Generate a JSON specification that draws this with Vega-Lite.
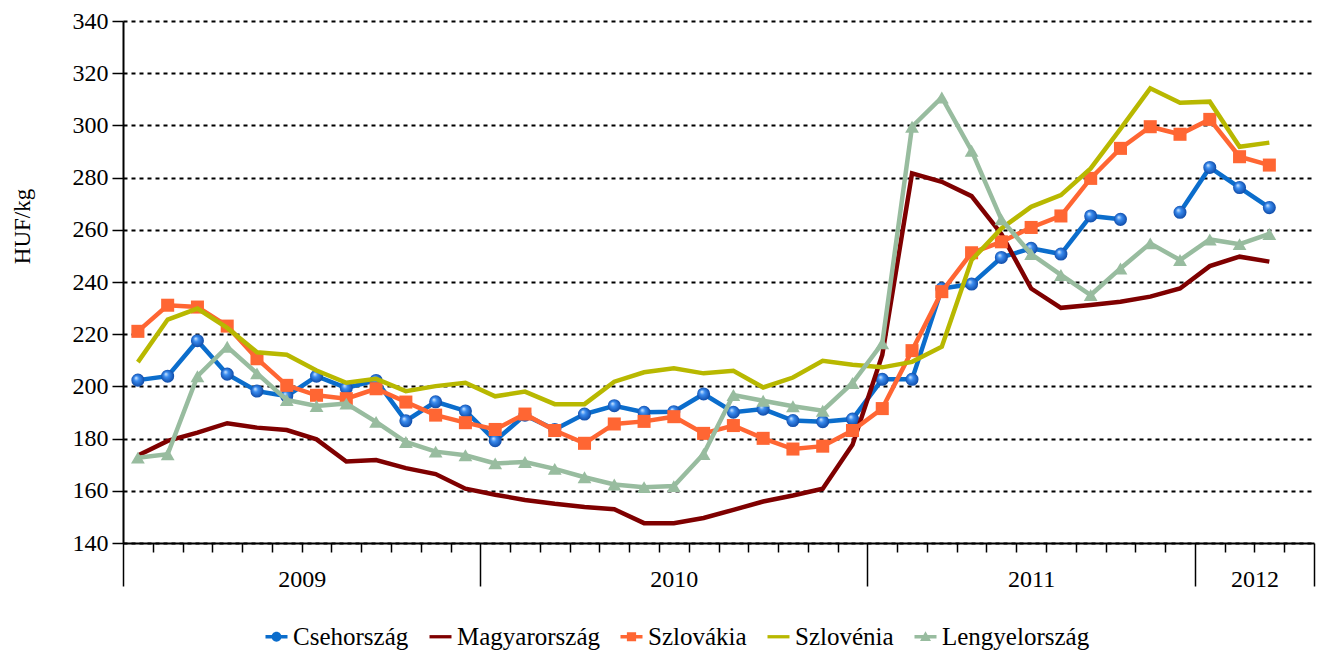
{
  "$schema": "https://vega.github.io/schema/vega-lite/v6.json",
  "width": 1191,
  "height": 522,
  "autosize": {"type": "none"},
  "padding": {"left": 123, "top": 21, "right": 10, "bottom": 108},
  "background": "white",
  "config": {"font": "Liberation Serif", "view": {"stroke": null}},
  "data": {"values": [
    {"period": 1, "Csehország": 202.4, "Magyarország": 173.5, "Szlovákia": 221.1, "Szlovénia": 209.3, "Lengyelország": 172.7},
    {"period": 2, "Csehország": 203.9, "Magyarország": 179.1, "Szlovákia": 231.1, "Szlovénia": 225.6, "Lengyelország": 174.0},
    {"period": 3, "Csehország": 217.5, "Magyarország": 182.3, "Szlovákia": 230.4, "Szlovénia": 229.8, "Lengyelország": 203.9},
    {"period": 4, "Csehország": 204.7, "Magyarország": 185.9, "Szlovákia": 223.1, "Szlovénia": 222.4, "Lengyelország": 215.2},
    {"period": 5, "Csehország": 198.2, "Magyarország": 184.2, "Szlovákia": 210.6, "Szlovénia": 213.1, "Lengyelország": 205.0},
    {"period": 6, "Csehország": 196.3, "Magyarország": 183.3, "Szlovákia": 200.4, "Szlovénia": 212.1, "Lengyelország": 194.8},
    {"period": 7, "Csehország": 203.9, "Magyarország": 179.7, "Szlovákia": 196.6, "Szlovénia": 206.1, "Lengyelország": 192.5},
    {"period": 8, "Csehország": 199.4, "Magyarország": 171.2, "Szlovákia": 195.3, "Szlovénia": 201.4, "Lengyelország": 193.4},
    {"period": 9, "Csehország": 202.3, "Magyarország": 171.8, "Szlovákia": 199.1, "Szlovénia": 202.9, "Lengyelország": 186.4},
    {"period": 10, "Csehország": 186.8, "Magyarország": 168.7, "Szlovákia": 194.0, "Szlovénia": 198.2, "Lengyelország": 178.7},
    {"period": 11, "Csehország": 194.1, "Magyarország": 166.4, "Szlovákia": 189.0, "Szlovénia": 200.1, "Lengyelország": 175.0},
    {"period": 12, "Csehország": 190.6, "Magyarország": 160.8, "Szlovákia": 186.1, "Szlovénia": 201.4, "Lengyelország": 173.6},
    {"period": 13, "Csehország": 179.2, "Magyarország": 158.5, "Szlovákia": 183.5, "Szlovénia": 196.2, "Lengyelország": 170.5},
    {"period": 14, "Csehország": 189.0, "Magyarország": 156.5, "Szlovákia": 189.4, "Szlovénia": 198.0, "Lengyelország": 171.0},
    {"period": 15, "Csehország": 183.5, "Magyarország": 155.0, "Szlovákia": 183.1, "Szlovénia": 193.2, "Lengyelország": 168.4},
    {"period": 16, "Csehország": 189.4, "Magyarország": 153.8, "Szlovákia": 178.2, "Szlovénia": 193.2, "Lengyelország": 165.2},
    {"period": 17, "Csehország": 192.6, "Magyarország": 152.9, "Szlovákia": 185.6, "Szlovénia": 201.8, "Lengyelország": 162.4},
    {"period": 18, "Csehország": 190.1, "Magyarország": 147.6, "Szlovákia": 186.6, "Szlovénia": 205.4, "Lengyelország": 161.4},
    {"period": 19, "Csehország": 190.3, "Magyarország": 147.6, "Szlovákia": 188.4, "Szlovénia": 206.9, "Lengyelország": 161.8},
    {"period": 20, "Csehország": 197.1, "Magyarország": 149.6, "Szlovákia": 182.0, "Szlovénia": 205.0, "Lengyelország": 174.1},
    {"period": 21, "Csehország": 190.1, "Magyarország": 152.7, "Szlovákia": 185.0, "Szlovénia": 206.0, "Lengyelország": 196.7},
    {"period": 22, "Csehország": 191.3, "Magyarország": 155.9, "Szlovákia": 180.1, "Szlovénia": 199.6, "Lengyelország": 194.5},
    {"period": 23, "Csehország": 186.9, "Magyarország": 158.2, "Szlovákia": 176.0, "Szlovénia": 203.4, "Lengyelország": 192.4},
    {"period": 24, "Csehország": 186.5, "Magyarország": 160.8, "Szlovákia": 177.1, "Szlovénia": 209.8, "Lengyelország": 190.7},
    {"period": 25, "Csehország": 187.5, "Magyarország": 177.6, "Szlovákia": 183.1, "Szlovénia": 208.3, "Lengyelország": 201.3},
    {"period": 26, "Csehország": 202.7, "Magyarország": 212.0, "Szlovákia": 191.5, "Szlovénia": 207.3, "Lengyelország": 216.5},
    {"period": 27, "Csehország": 202.7, "Magyarország": 281.6, "Szlovákia": 213.7, "Szlovénia": 209.4, "Lengyelország": 299.5},
    {"period": 28, "Csehország": 237.5, "Magyarország": 278.4, "Szlovákia": 236.3, "Szlovénia": 215.2, "Lengyelország": 310.7},
    {"period": 29, "Csehország": 239.2, "Magyarország": 272.9, "Szlovákia": 251.2, "Szlovénia": 248.4, "Lengyelország": 290.3},
    {"period": 30, "Csehország": 249.4, "Magyarország": 258.4, "Szlovákia": 255.4, "Szlovénia": 260.5, "Lengyelország": 264.0},
    {"period": 31, "Csehország": 252.9, "Magyarország": 237.5, "Szlovákia": 260.9, "Szlovénia": 268.8, "Lengyelország": 250.7},
    {"period": 32, "Csehország": 250.7, "Magyarország": 230.1, "Szlovákia": 265.3, "Szlovénia": 273.3, "Lengyelország": 242.7},
    {"period": 33, "Csehország": 265.3, "Magyarország": 231.2, "Szlovákia": 279.7, "Szlovénia": 283.5, "Lengyelország": 235.0},
    {"period": 34, "Csehország": 264.0, "Magyarország": 232.4, "Szlovákia": 291.2, "Szlovénia": 298.7, "Lengyelország": 245.2},
    {"period": 35, "Csehország": null, "Magyarország": 234.4, "Szlovákia": 299.5, "Szlovénia": 314.2, "Lengyelország": 254.8},
    {"period": 36, "Csehország": 266.7, "Magyarország": 237.5, "Szlovákia": 296.6, "Szlovénia": 308.7, "Lengyelország": 248.4},
    {"period": 37, "Csehország": 283.9, "Magyarország": 246.1, "Szlovákia": 302.3, "Szlovénia": 309.1, "Lengyelország": 256.3},
    {"period": 38, "Csehország": 276.2, "Magyarország": 249.7, "Szlovákia": 288.0, "Szlovénia": 291.8, "Lengyelország": 254.5},
    {"period": 39, "Csehország": 268.5, "Magyarország": 247.8, "Szlovákia": 284.8, "Szlovénia": 293.4, "Lengyelország": 258.4}
  ]},
  "transform": [
    {"fold": ["Csehország", "Magyarország", "Szlovákia", "Szlovénia", "Lengyelország"], "as": ["country", "value"]}
  ],
  "layer": [
    {
      "transform": [{"filter": "datum.country === 'Csehország'"}],
      "mark": {"type": "line", "strokeWidth": 4.5, "invalid": "break-paths-show-domains"},
      "encoding": {
        "x": {"field": "period", "type": "quantitative",
          "scale": {"domain": [0.5, 40.5], "nice": false, "zero": false},
          "axis": {
            "orient": "bottom",
            "values": [0.5,1.5,2.5,3.5,4.5,5.5,6.5,7.5,8.5,9.5,10.5,11.5,12.5,13.5,14.5,15.5,16.5,17.5,18.5,19.5,20.5,21.5,22.5,23.5,24.5,25.5,26.5,27.5,28.5,29.5,30.5,31.5,32.5,33.5,34.5,35.5,36.5,37.5,38.5,39.5,40.5],
            "labels": false, "grid": false, "title": null,
            "domain": true, "domainColor": "#000000", "domainWidth": 2,
            "ticks": true, "tickColor": "#000000", "tickWidth": 1.5,
            "tickSize": {"condition": {"test": "indexof([0.5, 12.5, 25.5, 36.5, 40.5], datum.value) >= 0", "value": 43}, "value": 9}
          }
        },
        "y": {"field": "value", "type": "quantitative",
          "scale": {"domain": [140, 340], "nice": false, "zero": false},
          "axis": {
            "values": [140,160,180,200,220,240,260,280,300,320,340],
            "grid": true, "gridColor": "#000000", "gridDash": [4, 4], "gridWidth": 2,
            "domainColor": "#000000", "domainWidth": 2,
            "tickColor": "#000000", "tickWidth": 1.5, "tickSize": 11,
            "labelFont": "Liberation Serif", "labelFontSize": 24, "labelColor": "#000000", "labelPadding": 4,
            "title": "HUF/kg", "titleFont": "Liberation Serif", "titleFontSize": 23, "titleFontWeight": "normal",
            "titleColor": "#000000", "titleX": -101, "titleY": 205, "titleAngle": -90, "titleBaseline": "middle", "titleAlign": "center"
          }
        },
        "color": {"field": "country", "type": "nominal",
          "scale": {
            "domain": ["Csehország", "Magyarország", "Szlovákia", "Szlovénia", "Lengyelország"],
            "range": ["#0b6dcc", "#7f0000", "#ff6633", "#b8b800", "#98bc9f"]
          },
          "legend": {
            "orient": "none", "legendX": 141, "legendY": 603, "direction": "horizontal", "columns": 5,
            "title": null, "labelFont": "Liberation Serif", "labelFontSize": 25, "labelColor": "#000000",
            "symbolSize": 484, "symbolStrokeWidth": 0, "labelOffset": 4, "columnPadding": 19,
            "encode": {
              "symbols": {"update": {
                "shape": {"signal": "datum.value === 'Csehország' ? 'M-1,-0.15H1V0.15H-1Z M0.45,0A0.45,0.45 0 1,1 -0.45,0A0.45,0.45 0 1,1 0.45,0Z' : datum.value === 'Szlovákia' ? 'M-1,-0.15H1V0.15H-1Z M-0.42,-0.42H0.42V0.42H-0.42Z' : datum.value === 'Lengyelország' ? 'M-1,-0.15H1V0.15H-1Z M0,-0.5L0.5,0.38H-0.5Z' : 'M-1,-0.15H1V0.15H-1Z'"},
                "fill": {"scale": "color", "field": "value"},
                "strokeWidth": {"value": 0}
              }}
            }
          }
        }
      }
    },
    {
      "transform": [{"filter": "datum.country === 'Csehország'"}],
      "mark": {"type": "point", "shape": "circle", "filled": true, "size": 170, "opacity": 1,
        "fill": {"gradient": "radial", "x1": 0.35, "y1": 0.32, "r1": 0, "x2": 0.5, "y2": 0.5, "r2": 0.55,
          "stops": [{"offset": 0, "color": "#dbeeff"}, {"offset": 0.35, "color": "#3a8cf0"}, {"offset": 1, "color": "#0a44a0"}]}},
      "encoding": {
        "x": {"field": "period", "type": "quantitative",
          "axis": {
            "orient": "bottom",
            "values": [6.5, 19, 31, 38.5], "ticks": false, "domain": false, "grid": false, "title": null,
            "labelExpr": "datum.value == 6.5 ? '2009' : datum.value == 19 ? '2010' : datum.value == 31 ? '2011' : '2012'",
            "labelFont": "Liberation Serif", "labelFontSize": 24, "labelColor": "#000000", "labelPadding": 24, "labelFlush": false
          }
        },
        "y": {"field": "value", "type": "quantitative"}
      }
    },
    {
      "transform": [{"filter": "datum.country === 'Magyarország'"}],
      "mark": {"type": "line", "strokeWidth": 4.5},
      "encoding": {
        "x": {"field": "period", "type": "quantitative", "axis": null},
        "y": {"field": "value", "type": "quantitative"},
        "color": {"field": "country", "type": "nominal"}
      }
    },
    {
      "transform": [{"filter": "datum.country === 'Szlovákia'"}],
      "mark": {"type": "line", "strokeWidth": 4.5},
      "encoding": {
        "x": {"field": "period", "type": "quantitative", "axis": null},
        "y": {"field": "value", "type": "quantitative"},
        "color": {"field": "country", "type": "nominal"}
      }
    },
    {
      "transform": [{"filter": "datum.country === 'Szlovákia'"}],
      "mark": {"type": "point", "shape": "square", "filled": true, "size": 170, "opacity": 1, "color": "#ff6633"},
      "encoding": {
        "x": {"field": "period", "type": "quantitative", "axis": null},
        "y": {"field": "value", "type": "quantitative"}
      }
    },
    {
      "transform": [{"filter": "datum.country === 'Szlovénia'"}],
      "mark": {"type": "line", "strokeWidth": 4.5},
      "encoding": {
        "x": {"field": "period", "type": "quantitative", "axis": null},
        "y": {"field": "value", "type": "quantitative"},
        "color": {"field": "country", "type": "nominal"}
      }
    },
    {
      "transform": [{"filter": "datum.country === 'Lengyelország'"}],
      "mark": {"type": "line", "strokeWidth": 4.5},
      "encoding": {
        "x": {"field": "period", "type": "quantitative", "axis": null},
        "y": {"field": "value", "type": "quantitative"},
        "color": {"field": "country", "type": "nominal"}
      }
    },
    {
      "transform": [{"filter": "datum.country === 'Lengyelország'"}],
      "mark": {"type": "point", "shape": "triangle-up", "filled": true, "size": 190, "opacity": 1, "color": "#98bc9f"},
      "encoding": {
        "x": {"field": "period", "type": "quantitative", "axis": null},
        "y": {"field": "value", "type": "quantitative"}
      }
    }
  ],
  "resolve": {"axis": {"x": "independent"}}
}
